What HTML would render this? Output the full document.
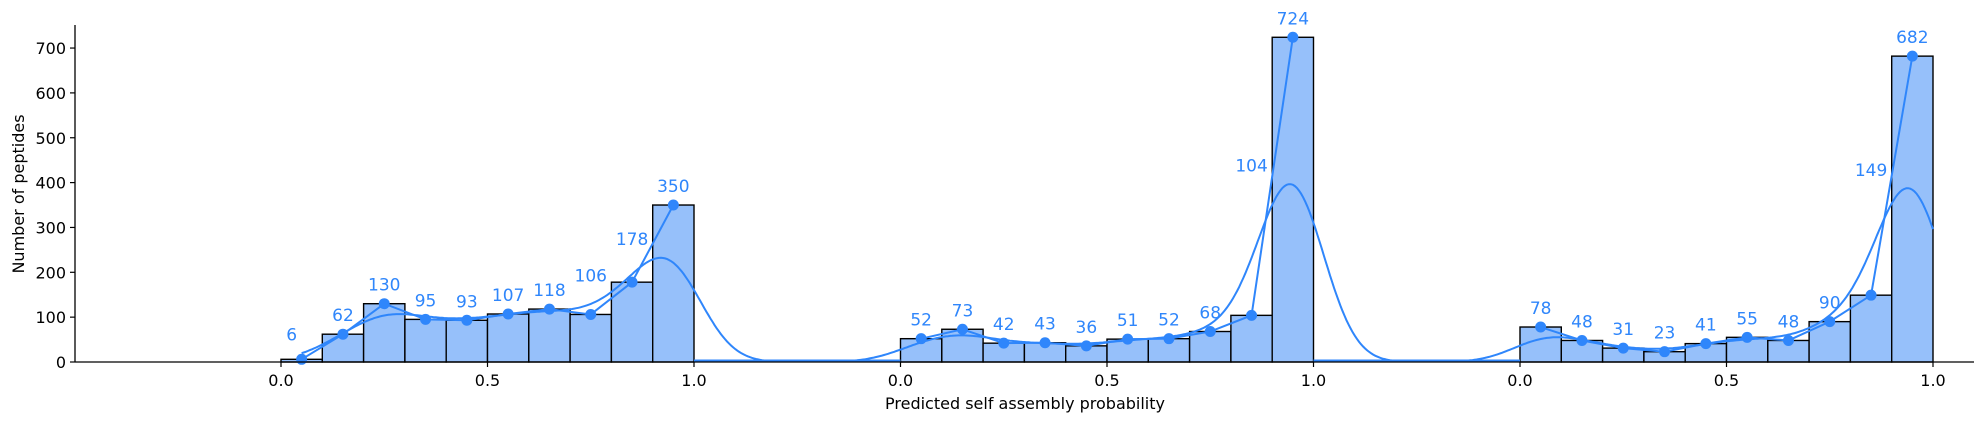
<!DOCTYPE html>
<html><head><meta charset="utf-8">
<style>
html,body{margin:0;padding:0;background:#fff;}
svg{display:block;font-family:"DejaVu Sans","Liberation Sans",sans-serif;}
</style></head>
<body>
<svg id="chart" width="1984" height="423" viewBox="0 0 1984 423" xmlns="http://www.w3.org/2000/svg">
  <g id="bars"></g>
  <g id="kde"></g>
  <g id="lines"></g>
  <g id="labels"></g>
  <g id="axes"></g>
  <text x="1025" y="409" text-anchor="middle" font-size="16">Predicted self assembly probability</text>
  <text transform="translate(24,194) rotate(-90)" text-anchor="middle" font-size="16">Number of peptides</text>
</svg>
<script>
const groupOffsets = [0, 1.5, 3];
const binEdges = [0,0.1,0.2,0.3,0.4,0.5,0.6,0.7,0.8,0.9,1.0];
const countsA = [6,62,130,95,93,107,118,106,178,350];
const countsB = [52,73,42,43,36,51,52,68,104,724];
const countsC = [78,48,31,23,41,55,48,90,149,682];
const groups = [countsA, countsB, countsC];
const yTicks = [0,100,200,300,400,500,600,700];
const xTickLabels = ["0.0","0.5","1.0"];
const xTickValues = [0, 0.5, 1.0];

const NS = "http://www.w3.org/2000/svg";
const X = u => 281 + u * 413;
const Y = v => 362 - v * 0.4485;
const blue = "#2f86fb";
const labelShift = {"0-0":[-10,-6],"0-7":[0,-20],"0-8":[0,-24],"1-8":[0,-131],"2-8":[0,-106]};
const kdeRange = [[0.05,1.5],[-0.5,1.5],[-0.5,1.0]];
const bw = 0.078;

function mk(tag, attrs, parent){const e=document.createElementNS(NS,tag);for(const k in attrs)e.setAttribute(k,attrs[k]);parent.appendChild(e);return e;}

const gK=document.getElementById('kde'), gB=document.getElementById('bars'), gL=document.getElementById('lines'), gT=document.getElementById('labels'), gA=document.getElementById('axes');

groups.forEach((counts, g) => {
  const off = groupOffsets[g];
  const [a,b] = kdeRange[g];
  let d = "";
  for (let x=a; x<=b+1e-9; x+=0.005) {
    let s = 0;
    counts.forEach((c,i)=>{const m=(binEdges[i]+binEdges[i+1])/2; s += c*0.1*Math.exp(-((x-m)**2)/(2*bw*bw))/(bw*Math.sqrt(2*Math.PI));});
    d += (d?"L":"M") + X(off+x).toFixed(1) + "," + Math.min(Y(s), 360.5).toFixed(1);
  }
  const k = mk('path',{d:d,fill:'none',stroke:blue,'stroke-width':2},gK);
  
  
  counts.forEach((c,i)=>{
    const x0=X(off+binEdges[i]), x1=X(off+binEdges[i+1]);
    const r = mk('rect',{x:x0,y:Y(c),width:x1-x0,height:362-Y(c),fill:'#96c0fa',stroke:'#000','stroke-width':1.4},gB);
    
    
  });
  const pts = counts.map((c,i)=>[X(off+(binEdges[i]+binEdges[i+1])/2), Y(c)]);
  const pl = mk('polyline',{points:pts.map(p=>p.join(',')).join(' '),fill:'none',stroke:blue,'stroke-width':2},gL);
  
  
  pts.forEach((p,i)=>{
    const c = mk('circle',{cx:p[0],cy:p[1],r:5.5,fill:blue},gL);
    
    
    const sh = labelShift[g+"-"+i] || [0,0];
    const t = mk('text',{x:p[0]+sh[0],y:p[1]-13+sh[1],'text-anchor':'middle','font-size':17,fill:blue},gT);
    t.textContent = counts[i];
    
    
  });
  xTickValues.forEach((v,j)=>{
    const x = X(off+v);
    mk('line',{x1:x,x2:x,y1:362,y2:367,stroke:'#000','stroke-width':1.2},gA);
    const t = mk('text',{x:x,y:386,'text-anchor':'middle','font-size':16},gA);
    t.textContent = xTickLabels[j];
    
    
  });
});
mk('line',{x1:75,x2:75,y1:25,y2:362,stroke:'#000','stroke-width':1.3},gA);
mk('line',{x1:75,x2:1974,y1:362,y2:362,stroke:'#000','stroke-width':1.3},gA);
yTicks.forEach(v=>{
  const y=Y(v);
  mk('line',{x1:70,x2:75,y1:y,y2:y,stroke:'#000','stroke-width':1.2},gA);
  const t = mk('text',{x:66,y:y+6,'text-anchor':'end','font-size':16},gA);
  t.textContent = v;
  
  
});
</script>
</body></html>
